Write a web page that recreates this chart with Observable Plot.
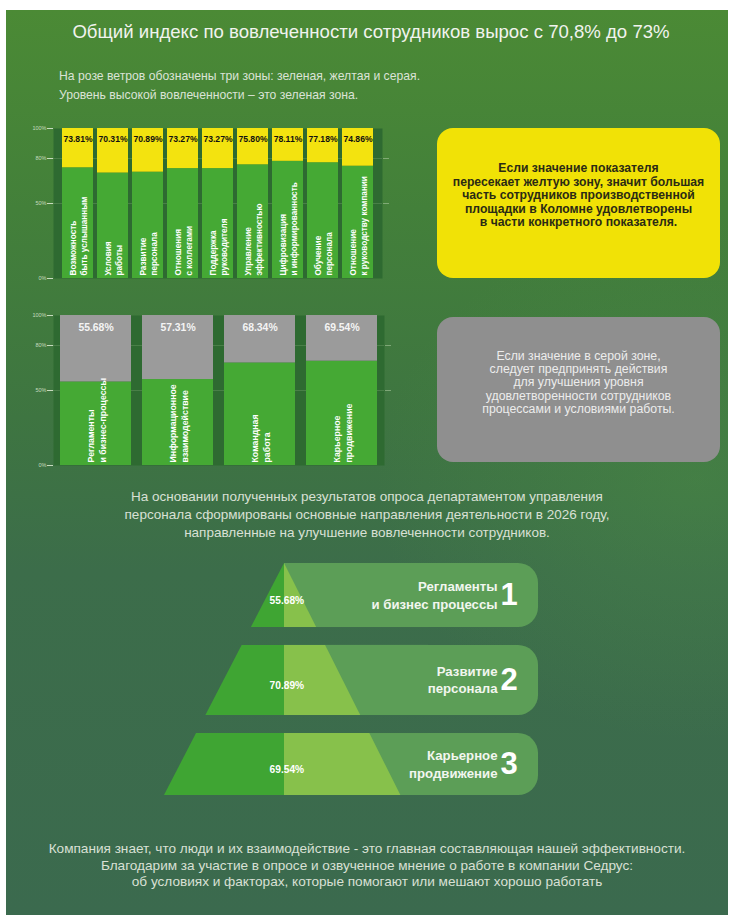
<!DOCTYPE html>
<html><head><meta charset="utf-8">
<script src="https://cdn.jsdelivr.net/npm/d3@7"></script>
<script src="https://cdn.jsdelivr.net/npm/@observablehq/plot@0.6"></script>
<style>
body{margin:0;background:#fff;font-family:"Liberation Sans",Arial,sans-serif;}
#page{position:relative;width:734px;height:915px;overflow:hidden;background:#fff;}
#bg{position:absolute;left:6px;top:10px;width:722px;height:905px;
 background:
  radial-gradient(ellipse 320px 260px at 690px 470px, rgba(80,150,70,0.35), rgba(80,150,70,0) 100%),
  linear-gradient(to bottom, #4b8a35 0%, #43803a 22%, #3e7541 45%, #3c6d4a 62%, #3b6a4e 100%);}
.abs{position:absolute;}
#title{left:6px;width:730px;top:19px;text-align:center;color:#f1f3ee;font-size:18.6px;line-height:26px;}
#subtitle{left:59px;top:67px;color:#dbe3d6;font-size:12.2px;line-height:19px;}
.box{position:absolute;border-radius:16px;display:flex;align-items:center;justify-content:center;text-align:center;}
#ybox{left:437px;top:128px;width:283px;height:150px;background:#f1e206;color:#2b2b14;font-weight:bold;font-size:12.2px;line-height:13.5px;}
#gbox{left:437px;top:317px;width:283px;height:145px;background:#8f8f8f;color:#ececec;font-size:12.3px;line-height:13.2px;}
#mid{left:0;width:734px;top:488px;text-align:center;color:#d9e0d5;font-size:13.5px;line-height:18px;}
#bottom{left:0;width:734px;top:841px;text-align:center;color:#d9e0d5;font-size:13.6px;line-height:16.5px;}
</style></head><body>
<div id="page">
 <div id="bg"></div>
 <div id="title" class="abs">Общий индекс по вовлеченности сотрудников вырос с 70,8% до 73%</div>
 <div id="subtitle" class="abs">На розе ветров обозначены три зоны: зеленая, желтая и серая.<br>Уровень высокой вовлеченности – это зеленая зона.</div>
 <div id="chart1" class="abs" style="left:0;top:118px"></div>
 <div id="chart2" class="abs" style="left:0;top:305px"></div>
 <div id="ybox" class="box"><div style="margin-top:-14px">Если значение показателя<br>пересекает желтую зону, значит большая<br>часть сотрудников производственной<br>площадки в Коломне удовлетворены<br>в части конкретного показателя.</div></div>
 <div id="gbox" class="box"><div style="margin-top:-13px">Если значение в серой зоне,<br>следует предпринять действия<br>для улучшения уровня<br>удовлетворенности сотрудников<br>процессами и условиями работы.</div></div>
 <div id="mid" class="abs">На основании полученных результатов опроса департаментом управления<br>персонала сформированы основные направления деятельности в 2026 году,<br>направленные на улучшение вовлеченности сотрудников.</div>
 <div id="pyramid" class="abs" style="left:0;top:555px"></div>
 <div id="bottom" class="abs">Компания знает, что люди и их взаимодействие - это главная составляющая нашей эффективности.<br>Благодарим за участие в опросе и озвученное мнение о работе в компании Седрус:<br>об условиях и факторах, которые помогают или мешают хорошо работать</div>
</div>
<script>
// ---------- data ----------
const topCategories = [
  "Возможность\nбыть услышанным",
  "Условия\nработы",
  "Развитие\nперсонала",
  "Отношения\nс коллегами",
  "Поддержка\nруководителя",
  "Управление\nэффективностью",
  "Цифровизация\nи информированность",
  "Обучение\nперсонала",
  "Отношение\nк руководству компании"
];
const topValues = [73.81, 70.31, 70.89, 73.27, 73.27, 75.80, 78.11, 77.18, 74.86];

const grayCategories = [
  "Регламенты\nи бизнес-процессы",
  "Информационное\nвзаимодействие",
  "Командная\nработа",
  "Карьерное\nпродвижение"
];
const grayValues = [55.68, 57.31, 68.34, 69.54];

const yTicks = [0, 50, 80, 100];

const pyramidLabels = ["Регламенты\nи бизнес процессы", "Развитие\nперсонала", "Карьерное\nпродвижение"];
const pyramidValues = [55.68, 70.89, 69.54];
const pyramidNumbers = ["1", "2", "3"];

// ---------- styles / layout ----------
const GREEN = "#45a934", YELLOW = "#f3e30f", GRAY = "#9b9b9b", DARK = "#2e6a31";
const FONT = "Liberation Sans, Arial, sans-serif";
const pct = d => d.toFixed(2) + "%";

function barChart(cats, vals, topFill, opts) {
  const data = cats.map((c, i) => ({cat: c, value: vals[i]}));
  return Plot.plot({
    width: 395, height: 170,
    marginTop: 10, marginBottom: 10, marginLeft: 53, marginRight: opts.marginRight,
    style: {background: "transparent", fontFamily: FONT, overflow: "visible"},
    x: {domain: cats, paddingInner: opts.pi, paddingOuter: opts.po, axis: null},
    y: {domain: [0, 100], ticks: yTicks, axis: null},
    marks: [
      Plot.frame({fill: DARK, stroke: null}),
      Plot.ruleY([50, 80], {stroke: "#9cc08f", strokeOpacity: 0.25}),
      Plot.axisY({ticks: yTicks, tickFormat: d => d + "%", tickSize: 6, tickPadding: 1, label: null,
                  fontSize: 5.5, color: "#c7dbbf", stroke: "#c7dbbf"}),
      Plot.axisY({anchor: "right", ticks: [50, 80], tickFormat: () => "", tickSize: 6, label: null,
                  stroke: "#a9c79d", strokeOpacity: 0.6}),
      Plot.barY(data, {x: "cat", y1: 0, y2: "value", fill: GREEN}),
      Plot.barY(data, {x: "cat", y1: "value", y2: 100, fill: topFill}),
      Plot.text(data, {x: "cat", y: 100, dy: opts.labelDy, text: d => pct(d.value),
                       fill: opts.labelFill, fontSize: opts.labelSize, fontWeight: "bold"}),
      Plot.text(data, {x: "cat", y: 0, dy: -3, text: "cat", rotate: -90, textAnchor: "start",
                       lineAnchor: "middle", lineHeight: opts.lh, fill: "#ffffff",
                       fontSize: opts.catSize, fontWeight: "bold"})
    ]
  });
}

document.getElementById("chart1").append(barChart(topCategories, topValues, YELLOW,
  {marginRight: 13, pi: 0.109, po: 0.14, labelDy: 11, labelFill: "#111", labelSize: 8.6,
   catSize: 8.2, lh: 1.3}));
document.getElementById("chart2").append(barChart(grayCategories, grayValues, GRAY,
  {marginRight: 11, pi: 0.137, po: 0.07, labelDy: 12, labelFill: "#f4f4f4", labelSize: 10.4,
   catSize: 8.8, lh: 1.4}));

// ---------- pyramid ----------
const rowTop = [0, 0.353, 0.733], rowBottom = [0.276, 0.655, 1];
const BAND_END = 2.117, TEXT_X = 1.775, NUM_X = 1.8;
const rows = pyramidLabels.map((l, i) => ({
  label: l, value: pyramidValues[i], num: pyramidNumbers[i],
  t1: rowTop[i], t2: rowBottom[i], tc: (rowTop[i] + rowBottom[i]) / 2
}));
const pts = rows.flatMap((r, i) => [{row: i, t: r.t1}, {row: i, t: r.t2}]);

const pyr = Plot.plot({
  width: 734, height: 250, margin: 0,
  style: {background: "transparent", fontFamily: FONT, overflow: "visible"},
  x: {domain: [-284 / 120, 450 / 120], range: [0, 734], axis: null},
  y: {domain: [0, 1], range: [8, 240], axis: null},
  marks: [
    Plot.rect(rows, {x1: 0, x2: BAND_END, y1: "t1", y2: "t2", rx: 20, fill: "#5c9e57"}),
    Plot.rect(rows, {x1: 0, x2: 1.2, y1: "t1", y2: "t2", fill: "#5c9e57"}),
    Plot.areaX(pts, {y: "t", x1: d => -d.t, x2: 0, z: "row", fill: "#3fa533", curve: "linear"}),
    Plot.areaX(pts, {y: "t", x1: 0, x2: d => d.t * 0.97, z: "row", fill: "#87c14b", curve: "linear"}),
    Plot.text(rows, {x: 0.02, y: "tc", dy: 5, text: d => pct(d.value), fill: "#ffffff",
                     fontSize: 10.2, fontWeight: "bold"}),
    Plot.text(rows, {x: TEXT_X, y: "tc", dy: -1, text: "label", textAnchor: "end", lineAnchor: "middle",
                     lineHeight: 1.3, fill: "#f2f6ef", fontSize: 13.2, fontWeight: "bold"}),
    Plot.text(rows, {x: NUM_X, y: "tc", text: "num", textAnchor: "start", fill: "#ffffff",
                     fontSize: 31, fontWeight: "bold"})
  ]
});
document.getElementById("pyramid").append(pyr);
</script>
</body></html>
